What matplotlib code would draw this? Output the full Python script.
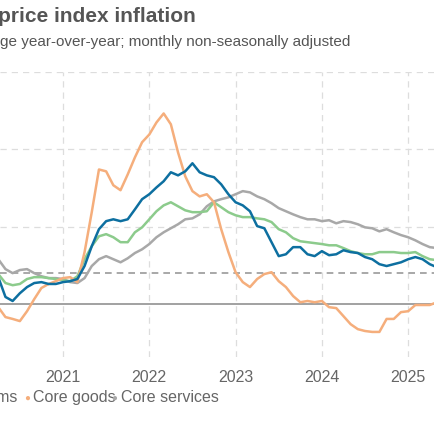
import numpy as np
import matplotlib
matplotlib.use("Agg")
import matplotlib.pyplot as plt

plt.rcParams["font.family"] = ["Liberation Sans", "DejaVu Sans"]

# monthly readings, Apr 2020 .. Apr 2025 (percent change year-over-year)
start_year = 2020.25
all_items = [0.87, 0.23, 0.10, 0.35, 0.55, 0.68, 0.71, 0.65, 0.65,
             0.71, 0.74, 0.81, 1.23, 1.87, 2.42, 2.68, 2.74, 2.68, 2.74, 3.06, 3.39,
             3.55, 3.77, 3.97, 4.26, 4.16, 4.29, 4.55, 4.26, 4.16, 4.10, 3.87, 3.55,
             3.29, 3.19, 3.00, 2.52, 2.45, 2.00, 1.55, 1.61, 1.84, 1.84, 1.61, 1.55,
             1.71, 1.58, 1.61, 1.74, 1.68, 1.65, 1.52, 1.45, 1.29, 1.23, 1.29, 1.35,
             1.45, 1.52, 1.45, 1.29, 1.19]
core_items = [0.97, 0.68, 0.61, 0.65, 0.81, 0.87, 0.87, 0.84, 0.81,
              0.77, 0.74, 0.90, 1.45, 1.87, 2.19, 2.26, 2.16, 2.00, 2.00, 2.32, 2.48,
              2.74, 3.00, 3.19, 3.29, 3.16, 3.03, 2.97, 2.97, 3.00, 3.29, 3.13, 2.97,
              2.87, 2.81, 2.81, 2.77, 2.74, 2.65, 2.42, 2.32, 2.13, 2.03, 2.00, 1.97,
              1.94, 1.90, 1.90, 1.81, 1.71, 1.65, 1.61, 1.61, 1.68, 1.68, 1.68, 1.65,
              1.65, 1.68, 1.55, 1.45, 1.42]
core_services = [1.45, 1.13, 1.00, 1.10, 1.13, 1.00, 0.90, 0.84, 0.84,
                 0.81, 0.71, 0.68, 0.84, 1.23, 1.45, 1.55, 1.45, 1.35, 1.48, 1.65, 1.77,
                 1.94, 2.16, 2.32, 2.45, 2.58, 2.74, 2.77, 2.90, 3.16, 3.32, 3.39, 3.45,
                 3.55, 3.65, 3.61, 3.48, 3.39, 3.26, 3.10, 3.00, 2.90, 2.81, 2.74, 2.74,
                 2.68, 2.71, 2.61, 2.68, 2.65, 2.58, 2.48, 2.45, 2.35, 2.42, 2.32, 2.23,
                 2.16, 2.06, 1.94, 1.84, 1.81]
core_goods = [-0.10, -0.42, -0.48, -0.55, -0.23, 0.16, 0.52, 0.65, 0.74,
              0.84, 0.87, 0.71, 1.68, 2.97, 4.35, 4.29, 3.84, 3.68, 4.19, 4.74, 5.23,
              5.48, 5.87, 6.16, 5.81, 4.90, 4.13, 3.65, 3.48, 3.55, 3.29, 2.42, 1.68,
              1.03, 0.71, 0.55, 0.81, 0.97, 1.03, 0.74, 0.55, 0.26, 0.06, 0.10, 0.06,
              0.10, -0.10, -0.13, -0.39, -0.65, -0.81, -0.87, -0.90, -0.90, -0.48, -0.48, -0.26,
              -0.23, -0.03, -0.03, -0.03, 0.06]
target = 1.0
years = [2021, 2022, 2023, 2024, 2025]

months = start_year + np.arange(len(all_items)) / 12

fig = plt.figure(figsize=(4.35, 4.35), dpi=100)
ax = fig.add_axes([0, 1 - 358 / 435, 1, (358 - 73) / 435])

grid = dict(color="#dddddd", linestyle=(0, (5, 4)), linewidth=0.9)
for y in [2.5, 5, 7.5]:
    ax.axhline(y, **grid, zorder=0)
for yr in years:
    ax.axvline(yr, **grid, zorder=0)
ax.axhline(0, color="#888888", linewidth=1.1, zorder=1)
ax.axhline(target, color="#999999", linewidth=1.2, linestyle=(0, (4, 3)), zorder=1)

ax.plot(months, core_services, color="#a8a8a8", linewidth=1.8, zorder=3)
ax.plot(months, core_items, color="#8ccb8c", linewidth=1.8, zorder=3)
ax.plot(months, core_goods, color="#f5ae7c", linewidth=1.8, zorder=4)
ax.plot(months, all_items, color="#0d6fa0", linewidth=1.8, zorder=5)

ax.set_xlim(2020.27, 2025.311)
ax.set_ylim(-1.71, 7.5)
ax.set_yticks([])
ax.set_xticks(years)
ax.set_xticklabels([str(y) for y in years], fontsize=11.5, color="#666666")
ax.tick_params(axis="x", length=0, pad=9)
for s in ax.spines.values():
    s.set_visible(False)

# title and subtitle, cropped at left edge like the source
fig.text(0, 1 - 17 / 435, "PCE ", ha="right", va="center", fontsize=15,
         fontweight="bold", color="#555555")
fig.text(-0.004, 1 - 17 / 435, "price index inflation", ha="left", va="center",
         fontsize=15, fontweight="bold", color="#555555")
fig.text(0, 1 - 42 / 435, "Percent chan", ha="right", va="center", fontsize=11,
         color="#555555")
fig.text(0, 1 - 42 / 435, "ge year-over-year; monthly non-seasonally adjusted",
         ha="left", va="center", fontsize=11, color="#555555")

# legend row
ly = 1 - 398 / 435
fig.text(17 / 435, ly, "Core items", ha="right", va="center", fontsize=11.5, color="#666666")
fig.text(24 / 435, ly, "\u25cf", ha="left", va="center", fontsize=7, color="#f5ae7c")
fig.text(33 / 435, ly, "Core goods", ha="left", va="center", fontsize=11.5, color="#666666")
fig.text(111 / 435, ly, "\u25cf", ha="left", va="center", fontsize=7, color="#a8a8a8")
fig.text(121 / 435, ly, "Core services", ha="left", va="center", fontsize=11.5, color="#666666")

fig.savefig("out.png", dpi=100)
